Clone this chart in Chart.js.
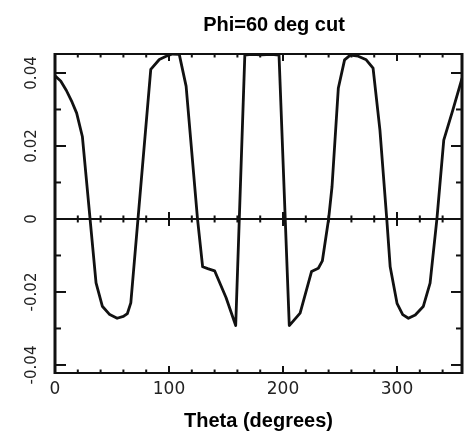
<!DOCTYPE html>
<html>
<head>
<meta charset="utf-8">
<script src="https://cdn.jsdelivr.net/npm/chart.js@4.4.1/dist/chart.umd.min.js"></script>
<style>
html, body { margin: 0; padding: 0; background: #ffffff; }
canvas { display: block; }
</style>
</head>
<body>
<canvas id="c" width="465" height="435"></canvas>
<script>
// ---- data ----
const chartTitle = 'Phi=60 deg cut';
const xAxisTitle = 'Theta (degrees)';
const thetaDeg = [0, 5, 10, 15, 19, 24, 36, 41.5, 48, 54.5, 60, 63.5, 66.5, 84, 91.5, 97, 103, 109, 115, 125,
  129.5, 134, 140, 150, 158.5, 166.5, 172, 181, 190, 196.5, 205.5, 215, 225, 231, 234.5, 240, 243, 248.5, 254,
  259, 266, 273, 279, 285, 291, 294, 300, 305, 310, 316, 323, 329, 335, 341, 349, 357];
const cutValues = [0.0392, 0.0378, 0.0352, 0.032, 0.029, 0.0226, -0.0175, -0.0239, -0.0262, -0.0272, -0.0267, -0.0259, -0.023, 0.041, 0.0437, 0.0445, 0.0452, 0.0451, 0.0364, 0.0,
  -0.0131, -0.0136, -0.0142, -0.0215, -0.0292, 0.0449, 0.0451, 0.0450, 0.0451, 0.0449, -0.0292, -0.0258, -0.0144, -0.0135, -0.0115, 0.0, 0.0089, 0.0358, 0.0436,
  0.0449, 0.0446, 0.0436, 0.0413, 0.0244, 0.0, -0.0131, -0.0231, -0.0262, -0.0272, -0.0263, -0.024, -0.0176, 0.0, 0.0216, 0.0299, 0.0385];
const xTickLabels = [0, 100, 200, 300];
const yTickLabels = [-0.04, -0.02, 0, 0.02, 0.04];
const xMinorTicks = [0, 20, 40, 60, 80, 100, 120, 140, 160, 180, 200, 220, 240, 260, 280, 300, 320, 340];
const yMinorTicks = [-0.04, -0.03, -0.02, -0.01, 0, 0.01, 0.02, 0.03, 0.04];
const xRange = [0, 357];
const yRange = [-0.0422, 0.0452];

const points = thetaDeg.map((t, i) => ({ x: t, y: cutValues[i] }));

const framePlugin = {
  id: 'framePlugin',
  beforeDatasetsDraw(chart) {
    const { ctx, chartArea: a, scales: { x, y } } = chart;
    const y0 = y.getPixelForValue(0);
    ctx.save();
    ctx.strokeStyle = '#111';
    ctx.lineWidth = 2;
    ctx.beginPath(); ctx.moveTo(a.left, y0); ctx.lineTo(a.right, y0); ctx.stroke();
    xMinorTicks.forEach(v => {
      const px = x.getPixelForValue(v);
      const h = xTickLabels.includes(v) ? 7 : 3.5;
      ctx.beginPath(); ctx.moveTo(px, y0 - h); ctx.lineTo(px, y0 + h); ctx.stroke();
    });
    ctx.restore();
  },
  afterDatasetsDraw(chart) {
    const { ctx, chartArea: a, scales: { x, y } } = chart;
    ctx.save();
    ctx.strokeStyle = '#111';
    // frame
    ctx.lineWidth = 2;
    ctx.beginPath(); ctx.moveTo(a.left, a.top); ctx.lineTo(a.right, a.top); ctx.stroke();
    ctx.beginPath(); ctx.moveTo(a.left, a.bottom); ctx.lineTo(a.right, a.bottom); ctx.stroke();
    ctx.lineWidth = 3;
    ctx.beginPath(); ctx.moveTo(a.left, a.top - 1); ctx.lineTo(a.left, a.bottom + 1); ctx.stroke();
    ctx.beginPath(); ctx.moveTo(a.right, a.top - 1); ctx.lineTo(a.right, a.bottom + 1); ctx.stroke();
    // x ticks (top & bottom, inward)
    ctx.lineWidth = 2;
    xMinorTicks.forEach(v => {
      const px = x.getPixelForValue(v);
      const h = xTickLabels.includes(v) ? 7 : 3.5;
      ctx.beginPath(); ctx.moveTo(px, a.bottom); ctx.lineTo(px, a.bottom - h); ctx.stroke();
      ctx.beginPath(); ctx.moveTo(px, a.top); ctx.lineTo(px, a.top + h); ctx.stroke();
    });
    // y ticks (left & right, inward)
    yMinorTicks.forEach(v => {
      const py = y.getPixelForValue(v);
      const major = yTickLabels.some(t => Math.abs(t - v) < 1e-9);
      const h = major ? 11 : 6;
      ctx.beginPath(); ctx.moveTo(a.left, py); ctx.lineTo(a.left + h, py); ctx.stroke();
      ctx.beginPath(); ctx.moveTo(a.right, py); ctx.lineTo(a.right - h, py); ctx.stroke();
    });
    // title
    ctx.fillStyle = '#000';
    ctx.font = 'bold 20px "Liberation Sans", Arial, sans-serif';
    ctx.textAlign = 'center';
    ctx.textBaseline = 'alphabetic';
    ctx.fillText(chartTitle, 274, 31);
    ctx.restore();
  }
};

new Chart(document.getElementById('c'), {
  type: 'line',
  data: {
    datasets: [{
      data: points,
      borderColor: '#111',
      borderWidth: 2.8,
      pointRadius: 0,
      tension: 0,
      fill: false,
      borderJoinStyle: 'round',
      borderCapStyle: 'round'
    }]
  },
  options: {
    responsive: false,
    animation: false,
    devicePixelRatio: 1,
    layout: { padding: { top: 54, right: 3, left: 0, bottom: 0 } },
    plugins: { legend: { display: false }, tooltip: { enabled: false }, title: { display: false } },
    scales: {
      x: {
        type: 'linear',
        min: xRange[0], max: xRange[1],
        grid: { display: false, drawTicks: false },
        border: { display: false },
        ticks: {
          stepSize: 100, includeBounds: false, autoSkip: false, maxRotation: 0,
          padding: 6, color: '#222',
          font: { family: '"DejaVu Sans", sans-serif', size: 17 },
          callback: v => (xTickLabels.includes(v) ? String(v) : '')
        },
        title: {
          display: true, text: xAxisTitle, color: '#000',
          font: { family: '"Liberation Sans", Arial, sans-serif', size: 20, weight: 'bold' },
          padding: { top: 0, bottom: 2 }
        },
        afterFit: s => { s.height = 62; }
      },
      y: {
        type: 'linear',
        min: yRange[0], max: yRange[1],
        grid: { display: false, drawTicks: false },
        border: { display: false },
        ticks: {
          stepSize: 0.02, includeBounds: false, autoSkip: false,
          minRotation: 90, maxRotation: 90, crossAlign: 'center',
          padding: 3, color: '#222',
          font: { family: '"DejaVu Sans", sans-serif', size: 15 },
          callback: v => {
            const r = Math.round(v * 100) / 100;
            if (Math.abs(r) < 1e-9) return '0';
            return r.toFixed(2);
          }
        },
        afterFit: s => { s.width = 55; }
      }
    }
  },
  plugins: [framePlugin]
});
</script>
</body>
</html>
